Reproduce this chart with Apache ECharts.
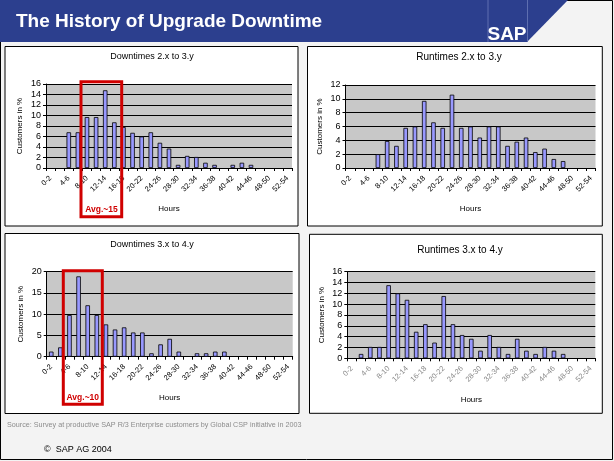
<!DOCTYPE html>
<html><head><meta charset="utf-8">
<script src="https://cdn.jsdelivr.net/npm/echarts@6/dist/echarts.min.js"></script>
<style>html,body{margin:0;padding:0;background:#fff}#c{width:614px;height:461px}</style>
</head><body><div id="c"></div>
<script>
// ---- data ----
const categories = ['0-2','2-4','4-6','6-8','8-10','10-12','12-14','14-16','16-18','18-20','20-22','22-24','24-26','26-28','28-30','30-32','32-34','34-36','36-38','38-40','40-42','42-44','44-46','46-48','48-50','50-52','52-54'];
const downtimes2to3 = [null,null,6.8,6.8,9.7,9.7,14.8,8.7,7.8,6.7,6.0,6.8,4.8,3.7,0.6,2.3,2.1,1.0,0.6,null,0.6,1.0,0.6,null,null,null,null];
const runtimes2to3  = [null,null,null,2.0,3.9,3.2,5.8,6.0,9.7,6.6,5.8,10.6,5.8,6.0,4.4,6.0,6.0,3.2,3.8,4.4,2.3,2.8,1.3,1.0,null,null,null];
const downtimes3to4 = [1.2,2.2,9.8,18.9,12.1,9.8,7.6,6.4,6.9,5.7,5.7,0.8,2.9,4.2,1.2,null,0.8,0.8,1.2,1.2,null,null,null,null,null,null,null];
const runtimes3to4  = [null,0.8,2.1,2.1,13.5,12.0,10.8,4.9,6.3,2.9,11.5,6.3,4.3,3.6,1.4,4.3,2.1,0.8,3.6,1.4,0.8,2.1,1.4,0.8,null,null,null];
const chartTitles = ['Downtimes 2.x to 3.y','Runtimes 2.x to 3.y','Downtimes 3.x to 4.y','Runtimes 3.x to 4.y'];
const yMaxes = [16,12,20,16];
const yIntervals = [2,2,5,2];
const seriesData = [downtimes2to3, runtimes2to3, downtimes3to4, runtimes3to4];

// ---- layout ----
const FONT = 'Liberation Sans, Arial, sans-serif';
const grids = [
  {left:46, top:84, width:246, height:84},
  {left:345.5, top:85, width:250, height:83},
  {left:46.7, top:271.7, width:246, height:85},
  {left:347.3, top:271.7, width:248, height:86.6}
];
const panels = [
  [5,46.5,293,179.5],[307.5,46.5,294.8,179.5],[5,233.5,294,180],[309.5,234.3,292.8,179]
];
const titlePos = [[152,57,9],[459,57,10],[152,245,9],[460,250,10]];
const labelColors = ['#000','#000','#000','#8a8a8a'];

const chart = echarts.init(document.getElementById('c'), null, {renderer:'canvas'});

const option = {
  backgroundColor:'#f3f3f3',
  animation:false,
  grid: grids.map(g => Object.assign({show:true, backgroundColor:'#c8c8c8', borderWidth:0, outerBoundsMode:'none', containLabel:false}, g)),
  xAxis: grids.map((g,i) => ({
    type:'category', gridIndex:i, data:categories, boundaryGap:true,
    axisLine:{show:true, lineStyle:{color:'#000', width:1}},
    axisTick:{show:true, interval:0, length:3, lineStyle:{color:'#000'}},
    axisLabel:{interval:1, rotate:45, fontSize:7.5, color:labelColors[i], margin:9, fontFamily:FONT},
    splitLine:{show:false},
    name:'Hours', nameLocation:'middle', nameGap:37,
    nameTextStyle:{fontSize:8, color:'#000', fontFamily:FONT}
  })),
  yAxis: grids.map((g,i) => ({
    type:'value', gridIndex:i, min:0, max:yMaxes[i], interval:yIntervals[i],
    axisLine:{show:true, lineStyle:{color:'#000', width:1}},
    axisTick:{show:true, length:3, lineStyle:{color:'#000'}},
    splitLine:{show:true, lineStyle:{color:'#000', width:1}},
    axisLabel:{fontSize:9, color:'#000', margin:5, fontFamily:FONT},
    name:'Customers in %', nameLocation:'middle', nameGap:22, nameRotate:90,
    nameTextStyle:{fontSize:8, color:'#000', fontFamily:FONT}
  })),
  series: seriesData.map((d,i) => ({
    type:'bar', xAxisIndex:i, yAxisIndex:i, data:d, barWidth:4.5,
    itemStyle:{color:'#9999ff', borderColor:'#000', borderWidth:0.8},
    silent:true
  })),
  graphic: [
    // header band
    {type:'polygon', z:-5, shape:{points:[[0,0],[568,0],[527,42],[0,42]]}, style:{fill:'#2c3f8e'}},
    {type:'line', z:-4, shape:{x1:488,y1:0,x2:488,y2:42}, style:{stroke:'#5e6fb0', lineWidth:1}},
    {type:'line', z:-4, shape:{x1:527.5,y1:0,x2:527.5,y2:42}, style:{stroke:'#5e6fb0', lineWidth:1}},
    {type:'text', z:10, style:{text:'The History of Upgrade Downtime', x:16, y:22, fill:'#fff', font:'bold 19px '+FONT, textVerticalAlign:'middle'}},
    {type:'text', z:10, style:{text:'SAP', x:507, y:35, fill:'#fff', font:'bold 19px '+FONT, textAlign:'center', textVerticalAlign:'middle'}},
    // outer frame
    {type:'rect', z:-6, shape:{x:0.5,y:0.5,width:612,height:459}, style:{fill:null, stroke:'#000', lineWidth:1}},
    // panels
    ...panels.map(p => ({type:'rect', z:-3, shape:{x:p[0],y:p[1],width:p[2],height:p[3]}, style:{fill:'#fff', stroke:'#000', lineWidth:1}})),
    // chart titles
    ...chartTitles.map((t,i) => ({type:'text', z:10, style:{text:t, x:titlePos[i][0], y:titlePos[i][1], fill:'#000', font:titlePos[i][2]+'px '+FONT, textAlign:'center', textVerticalAlign:'middle'}})),
    // average annotations
    {type:'rect', z:50, shape:{x:81,y:81.7,width:40.7,height:135}, style:{fill:null, stroke:'#d00000', lineWidth:3}},
    {type:'text', z:50, style:{text:'Avg.~15', x:101.5, y:209.5, fill:'#d00000', font:'bold 8.5px '+FONT, textAlign:'center', textVerticalAlign:'middle'}},
    {type:'rect', z:50, shape:{x:63.3,y:270.7,width:39,height:133.6}, style:{fill:null, stroke:'#d00000', lineWidth:3}},
    {type:'text', z:50, style:{text:'Avg.~10', x:82.8, y:397.5, fill:'#d00000', font:'bold 8.5px '+FONT, textAlign:'center', textVerticalAlign:'middle'}},
    // footer
    {type:'text', z:10, style:{text:'Source: Survey at productive SAP R/3 Enterprise customers by Global CSP initiative in 2003', x:7, y:425.5, fill:'#8c8c8c', font:'7.2px '+FONT, textVerticalAlign:'middle'}},
    {type:'text', z:10, style:{text:'\u00A9  SAP AG 2004', x:44, y:450, fill:'#000', font:'9px '+FONT, textVerticalAlign:'middle'}}
  ]
};
chart.setOption(option);
</script></body></html>
